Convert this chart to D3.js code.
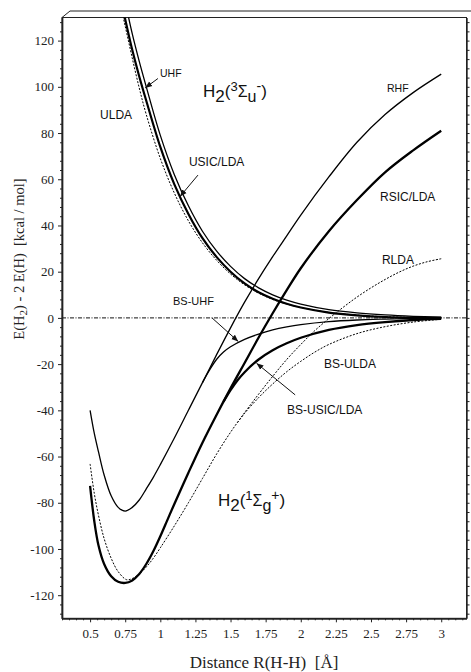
<!DOCTYPE html>
<html>
<head>
<meta charset="utf-8">
<script src="https://cdn.jsdelivr.net/npm/d3@7"></script>
<style>
body { margin: 0; background: #fff; }
svg { display: block; }
</style>
</head>
<body>
<div id="chart"></div>
<script>
// sizes
const WIDTH = 471
const HEIGHT = 672
const MARGINS = {left: 62, right: 4.5, top: 17.5, bottom: 53.7};

const SERIF = "'Liberation Serif', 'Times New Roman', serif";
const SANS = "'Liberation Sans', Arial, sans-serif";

// ticks
const X_TICKS = [0.5, 0.75, 1, 1.25, 1.5, 1.75, 2, 2.25, 2.5, 2.75, 3];
const Y_TICKS = [-120, -100, -80, -60, -40, -20, 0, 20, 40, 60, 80, 100, 120];

// triplet state curves (repulsive)
const R_TRIPLET = [0.74, 0.76, 0.8, 0.85, 0.9, 1.0, 1.1, 1.2, 1.3, 1.4, 1.5, 1.6, 1.7, 1.8, 1.9, 2.0, 2.2, 2.4, 2.6, 2.8, 3.0];
const E_UHF = [140, 134, 123, 111, 100, 79, 62, 48.5, 37.5, 29, 22.3, 17, 13, 10, 7.7, 6, 3.6, 2.2, 1.3, 0.7, 0.3];
const E_USIC = [132, 126.5, 116, 104.5, 94, 74, 57.8, 45, 34.5, 26.4, 20, 14.9, 11.1, 8.3, 6.1, 4.5, 2.3, 1.1, 0.4, 0.1, 0];
const R_ULDA = [0.72, 0.74, 0.76, 0.8, 0.85, 0.9, 1.0, 1.1, 1.2, 1.3, 1.4, 1.5, 1.6, 1.7, 1.8, 1.9, 2.0, 2.2, 2.4, 2.6, 2.8, 3.0];
const E_ULDA = [135, 129, 123.5, 112.5, 99.5, 88, 69, 54, 42, 32.5, 25, 19, 14.3, 10.7, 8, 6, 4.5, 2.4, 1.2, 0.5, 0.2, 0];

// singlet restricted curves
const R_RHF = [0.5, 0.53, 0.56, 0.6, 0.65, 0.7, 0.75, 0.8, 0.85, 0.9, 0.95, 1.0, 1.1, 1.2, 1.3, 1.4, 1.5, 1.6, 1.7, 1.8, 1.9, 2.0, 2.2, 2.4, 2.6, 2.8, 3.0];
const E_RHF = [-40, -50, -58, -68, -77, -82, -83.6, -82, -78.8, -74, -69, -63.5, -52, -40, -28, -16, -4.3, 6.8, 17, 26.5, 35.5, 44.5, 61, 76, 88, 97.5, 105.5];

const R_RSIC = [0.5, 0.53, 0.56, 0.6, 0.65, 0.7, 0.75, 0.8, 0.85, 0.9, 0.95, 1.0, 1.05, 1.1, 1.2, 1.3, 1.4, 1.5, 1.6, 1.7, 1.8, 1.9, 2.0, 2.2, 2.4, 2.6, 2.8, 3.0];
const E_RSIC = [-72.7, -88, -98.5, -106.5, -111.8, -114.2, -114.7, -113.6, -110.8, -106.5, -101, -94.5, -87.5, -80.5, -67, -54, -42, -30.5, -19.5, -8.5, 2, 12, 21.5, 37.5, 51, 63, 72.5, 81];

const R_RLDA = [0.5, 0.53, 0.56, 0.6, 0.65, 0.7, 0.76, 0.8, 0.85, 0.9, 0.95, 1.0, 1.1, 1.2, 1.3, 1.4, 1.5, 1.6, 1.7, 1.8, 1.9, 2.0, 2.1, 2.2, 2.3, 2.4, 2.5, 2.6, 2.7, 2.8, 2.9, 3.0];
const E_RLDA = [-63.2, -76, -85.5, -95.5, -104, -109.8, -113.3, -112.8, -110.8, -107.8, -104, -99.5, -90, -80, -69.5, -59, -49.5, -41, -33, -25.3, -18, -11.5, -5.5, -0.3, 4.5, 9, 13, 16.6, 19.8, 22.4, 24.3, 25.6];

// singlet broken-symmetry curves
const R_BSUHF = [1.3, 1.35, 1.4, 1.45, 1.5, 1.6, 1.7, 1.8, 1.9, 2.0, 2.2, 2.4, 2.6, 2.8, 3.0];
const E_BSUHF = [-28, -22.6, -18, -14.8, -12.5, -9.3, -7, -5.2, -3.9, -2.9, -1.6, -0.9, -0.5, -0.2, 0];

const R_BSUSIC = [1.45, 1.5, 1.55, 1.6, 1.7, 1.8, 1.9, 2.0, 2.2, 2.4, 2.6, 2.8, 3.0];
const E_BSUSIC = [-36.3, -31.3, -27, -23.5, -18, -14, -11, -8.6, -5.2, -3.1, -1.8, -0.9, -0.4];

const R_BSULDA = [1.55, 1.6, 1.7, 1.8, 1.9, 2.0, 2.1, 2.2, 2.4, 2.6, 2.8, 3.0];
const E_BSULDA = [-45.3, -41.3, -34.5, -28.6, -23.3, -18.8, -14.8, -11.5, -6.8, -3.8, -1.8, -0.6];

const SVG = d3.select("#chart")
	.append("svg")
		.attr("width", WIDTH)
		.attr("height", HEIGHT);

const X_SCALE = d3.scaleLinear()
	.domain([0.3, 3.18])
	.range([MARGINS.left, WIDTH - MARGINS.right]);

const Y_SCALE = d3.scaleLinear()
	.domain([-130, 130])
	.range([HEIGHT - MARGINS.bottom, MARGINS.top]);

const X0 = MARGINS.left, X1 = WIDTH - MARGINS.right;
const Y0 = MARGINS.top, Y1 = HEIGHT - MARGINS.bottom;

// arrow head
const DEFS = SVG.append("defs");
DEFS.append("marker")
	.attr("id", "arr")
	.attr("viewBox", "0 0 10 10")
	.attr("refX", 10).attr("refY", 5)
	.attr("markerWidth", 7).attr("markerHeight", 7)
	.attr("markerUnits", "userSpaceOnUse")
	.attr("orient", "auto")
	.append("path")
		.attr("d", "M0,1 L10,5 L0,9 Z")
		.attr("fill", "#111");

DEFS.append("clipPath")
	.attr("id", "plot-clip")
	.append("rect")
		.attr("x", X0).attr("y", Y0)
		.attr("width", X1 - X0).attr("height", Y1 - Y0);

// frame with the little 3d top edge
SVG.append("path")
	.attr("d", `M${X0},${Y0} L${X0 + 8},${Y0 - 6.5} L${WIDTH},${Y0 - 6.5}`)
	.attr("fill", "none").attr("stroke", "#222").attr("stroke-width", 1);
SVG.append("rect")
	.attr("x", X0).attr("y", Y0)
	.attr("width", X1 - X0).attr("height", Y1 - Y0)
	.attr("fill", "none").attr("stroke", "#222").attr("stroke-width", 1);

// zero line
SVG.append("line")
	.attr("x1", X0).attr("x2", X1)
	.attr("y1", Y_SCALE(0)).attr("y2", Y_SCALE(0))
	.attr("stroke", "#111").attr("stroke-width", 1)
	.attr("stroke-dasharray", "4,1.5,1,1.5");

// axes
const Y_MINOR = d3.range(-128, 129, 4).filter(d => d % 20 !== 0);
const X_MINOR = d3.range(0.3, 3.17, 0.05).filter(d => !X_TICKS.some(t => Math.abs(t - d) < 1e-6));

function styleAxis(g) {
	g.attr("font-family", null).attr("font-size", null);
	g.selectAll("text")
		.style("font-family", SERIF)
		.style("font-size", "13px")
		.attr("fill", "#222");
	g.select(".domain").attr("stroke", "#222").attr("stroke-width", 1.4);
	g.selectAll(".tick line").attr("stroke", "#222");
}

SVG.append("g")
	.attr("transform", `translate(${X0},0)`)
	.call(d3.axisLeft(Y_SCALE).tickValues(Y_TICKS).tickSize(4).tickSizeOuter(0).tickPadding(4).tickFormat(d => String(d)))
	.call(styleAxis);
SVG.append("g")
	.attr("transform", `translate(${X0},0)`)
	.call(d3.axisLeft(Y_SCALE).tickValues(Y_MINOR).tickSize(2).tickSizeOuter(0).tickFormat(""))
	.call(styleAxis);
SVG.append("g")
	.attr("transform", `translate(${X1},0)`)
	.call(d3.axisRight(Y_SCALE).tickValues(Y_TICKS.concat(Y_MINOR)).tickSize(3).tickSizeOuter(0).tickFormat(""))
	.call(styleAxis);
SVG.append("g")
	.attr("transform", `translate(0,${Y1})`)
	.call(d3.axisBottom(X_SCALE).tickValues(X_TICKS).tickSize(4).tickSizeOuter(0).tickPadding(6).tickFormat(d => String(d)))
	.call(styleAxis);
SVG.append("g")
	.attr("transform", `translate(0,${Y1})`)
	.call(d3.axisBottom(X_SCALE).tickValues(X_MINOR).tickSize(2).tickSizeOuter(0).tickFormat(""))
	.call(styleAxis);

// curves
const LINE = d3.line()
	.x(d => X_SCALE(d[0]))
	.y(d => Y_SCALE(d[1]))
	.curve(d3.curveCatmullRom.alpha(0.5));

const SERIES = [
	{r: R_ULDA, e: E_ULDA, w: 1, dash: "2,1.5"},
	{r: R_TRIPLET, e: E_USIC, w: 2.2, dash: null},
	{r: R_TRIPLET, e: E_UHF, w: 1.3, dash: null},
	{r: R_RLDA, e: E_RLDA, w: 1, dash: "2,1.5"},
	{r: R_BSULDA, e: E_BSULDA, w: 1, dash: "2,1.5"},
	{r: R_RHF, e: E_RHF, w: 1.3, dash: null},
	{r: R_BSUHF, e: E_BSUHF, w: 1.3, dash: null},
	{r: R_RSIC, e: E_RSIC, w: 2.3, dash: null},
	{r: R_BSUSIC, e: E_BSUSIC, w: 2.3, dash: null},
];

SVG.append("g")
	.attr("clip-path", "url(#plot-clip)")
	.selectAll("path")
	.data(SERIES)
	.enter()
	.append("path")
		.attr("d", (d) => LINE(d.r.map((r, i) => [r, d.e[i]])))
		.attr("fill", "none")
		.attr("stroke", "#000")
		.attr("stroke-width", (d) => d.w)
		.attr("stroke-dasharray", (d) => d.dash);

// labels, placed in data units
const LABELS = [
	{t: "UHF", r: 0.998, e: 104.4, s: 10.5},
	{t: "ULDA", r: 0.571, e: 86, s: 12},
	{t: "RHF", r: 2.614, e: 97.7, s: 10.5},
	{t: "USIC/LDA", r: 1.204, e: 65.7, s: 12},
	{t: "RSIC/LDA", r: 2.564, e: 50.6, s: 12},
	{t: "RLDA", r: 2.578, e: 23.3, s: 12},
	{t: "BS-UHF", r: 1.09, e: 5.5, s: 11},
	{t: "BS-ULDA", r: 2.165, e: -21.7, s: 12},
	{t: "BS-USIC/LDA", r: 1.902, e: -41.6, s: 12},
];

SVG.selectAll(".lbl")
	.data(LABELS)
	.enter()
	.append("text")
		.attr("class", "lbl")
		.attr("x", (d) => X_SCALE(d.r))
		.attr("y", (d) => Y_SCALE(d.e))
		.style("font-family", SANS)
		.style("font-size", (d) => d.s + "px")
		.attr("fill", "#111")
		.text((d) => d.t);

const ARROWS = [
	{r0: 0.983, e0: 103.6, r1: 0.892, e1: 99.5},
	{r0: 1.268, e0: 61.8, r1: 1.14, e1: 52.5},
	{r0: 1.368, e0: 0, r1: 1.555, e1: -10.2},
	{r0: 1.96, e0: -33.3, r1: 1.685, e1: -19.6},
];

SVG.selectAll(".arrow")
	.data(ARROWS)
	.enter()
	.append("line")
		.attr("class", "arrow")
		.attr("x1", (d) => X_SCALE(d.r0))
		.attr("y1", (d) => Y_SCALE(d.e0))
		.attr("x2", (d) => X_SCALE(d.r1))
		.attr("y2", (d) => Y_SCALE(d.e1))
		.attr("stroke", "#111")
		.attr("stroke-width", 1)
		.attr("marker-end", "url(#arr)");

// state symbols
function stateLabel(r, e, mult, sym, sign) {
	const t = SVG.append("text")
		.attr("x", X_SCALE(r))
		.attr("y", Y_SCALE(e))
		.style("font-family", SANS)
		.style("font-size", "17px")
		.attr("fill", "#111");
	t.append("tspan").text("H");
	t.append("tspan").attr("dy", 5).text("2");
	t.append("tspan").attr("dy", -5).text("(");
	t.append("tspan").attr("dy", -6).style("font-size", "13px").text(mult);
	t.append("tspan").attr("dy", 6).style("font-size", "16px").text("Σ");
	t.append("tspan").attr("dy", 5).style("font-size", "16px").text(sym);
	t.append("tspan").attr("dy", -11).style("font-size", "14px").text(sign);
	t.append("tspan").attr("dy", 6).text(")");
}
stateLabel(1.304, 95.7, "3", "u", "-");
stateLabel(1.41, -81.6, "1", "g", "+");

// axis titles
SVG.append("text")
	.attr("x", 264)
	.attr("y", 668)
	.attr("text-anchor", "middle")
	.style("font-family", SERIF)
	.style("font-size", "17px")
	.attr("fill", "#222")
	.text("Distance R(H-H)\u00a0\u00a0[Å]");

const YT = SVG.append("text")
	.attr("transform", "translate(24,259) rotate(-90)")
	.attr("text-anchor", "middle")
	.style("font-family", SERIF)
	.style("font-size", "14.5px")
	.attr("fill", "#222");
YT.append("tspan").text("E(H");
YT.append("tspan").attr("dy", 3).style("font-size", "11px").text("2");
YT.append("tspan").attr("dy", -3).text(") - 2 E(H)\u00a0\u00a0[kcal / mol]");
</script>
</body>
</html>
